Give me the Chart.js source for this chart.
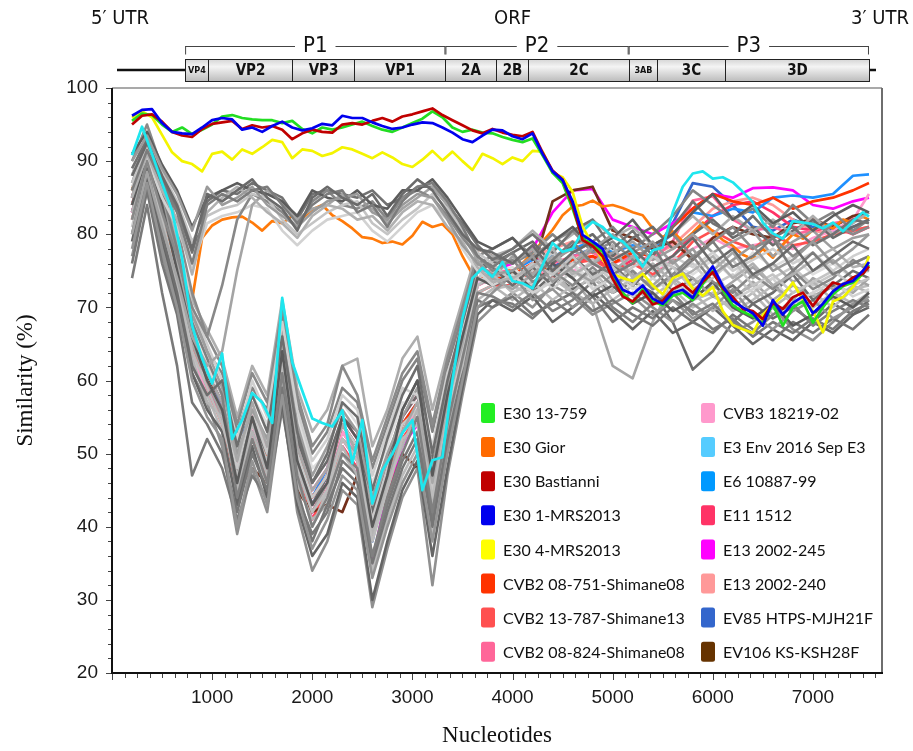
<!DOCTYPE html>
<html>
<head>
<meta charset="utf-8">
<title>Similarity plot</title>
<script src="https://cdn.jsdelivr.net/npm/chart.js@4.4.1/dist/chart.umd.min.js"></script>
<style>
  html, body { margin: 0; padding: 0; background: #fff; }
  #wrap { width: 913px; height: 751px; position: relative; }
</style>
</head>
<body>
<div id="wrap"><canvas id="simplot"></canvas></div>
<script>
// ---- data ----
const X_MAX = 7690;
const X_TICKS = [1000, 2000, 3000, 4000, 5000, 6000, 7000];
const Y_TICKS = [20, 30, 40, 50, 60, 70, 80, 90, 100];

// genome map, in nucleotides
const SEGMENTS = [['VP4', 730, 960], ['VP2', 960, 1800], ['VP3', 1800, 2420], ['VP1', 2420, 3330],
  ['2A', 3330, 3840], ['2B', 3840, 4150], ['2C', 4150, 5160], ['3AB', 5160, 5440],
  ['3C', 5440, 6120], ['3D', 6120, 7560]];
const REGIONS = [['P1', 730, 3330], ['P2', 3330, 5160], ['P3', 5160, 7560]];

// window positions for the highlighted strains
const NT_FINE = [200,300,400,500,600,700,800,900,1000,1100,1200,1300,1400,1500,1600,1700,1800,1900,2000,2100,
  2200,2300,2400,2500,2600,2700,2800,2900,3000,3100,3200,3300,3400,3500,3600,3700,3800,3900,4000,4100,
  4200,4300,4400,4500,4600,4700,4800,4900,5000,5100,5200,5300,5400,5500,5600,5700,5800,5900,6000,6100,
  6200,6300,6400,6500,6600,6700,6800,6900,7000,7100,7200,7300,7400,7500,7560];
// window positions for the background strains
const NT_GRID = [200,350,500,650,800,950,1100,1250,1400,1550,1700,1850,2000,2150,2300,2450,2600,2750,2900,3050,
  3200,3350,3500,3650,3800,4000,4200,4400,4600,4800,5000,5200,5400,5600,5800,6000,6200,6400,6600,6800,
  7000,7200,7400,7560];

const E30_13_759 = [95.5,96.5,96.3,95.0,94.0,94.6,93.7,94.3,95.0,96.1,96.3,95.9,95.7,95.6,95.6,95.2,95.5,94.4,93.8,94.6,
  94.3,94.6,95.0,95.4,94.8,94.3,94.0,94.6,95.2,95.8,96.8,96.0,94.6,94.0,94.3,93.9,93.8,93.3,92.9,92.6,
  93.1,90.8,88.4,87.0,83.5,79.4,78.6,77.6,74.2,72.0,70.6,72.5,70.8,70.3,71.6,72.0,71.0,73.2,75.0,72.4,
  70.3,69.4,68.8,67.8,70.4,67.5,70.0,70.8,67.9,70.0,71.8,72.9,73.4,74.6,75.8];
const E30_GIOR = [86,91,89,84,78,73.5,71.0,79.5,81.2,82.0,82.3,82.4,81.6,80.5,81.8,81.5,82.5,82.2,83.4,84.0,
  82.6,81.8,80.8,79.6,79.4,78.8,79.0,78.6,79.8,81.7,81.0,81.4,80.0,77.0,74.5,73.8,74.6,75.5,74.8,76.0,
  77.5,79.0,80.6,82.6,83.8,84.0,84.6,83.8,84.0,83.6,83.0,82.6,80.8,79.6,80.4,79.0,80.2,81.6,80.4,79.2,
  78.4,77.2,76.6,78.0,76.8,78.6,80.0,79.4,80.6,81.4,80.8,82.0,81.6,82.4,82.0];
const E30_BASTIANNI = [95.0,96.2,96.4,95.4,94.0,93.5,93.3,94.4,95.1,95.3,95.5,94.4,94.9,94.6,94.8,94.3,93.0,93.8,94.3,94.0,
  93.9,95.0,95.2,95.0,95.5,95.9,95.4,96.1,96.4,96.8,97.2,96.3,95.6,94.9,94.2,93.8,94.4,93.9,93.6,93.4,
  94.0,91.2,88.7,87.5,84.0,79.2,78.4,77.0,73.9,71.5,70.8,72.2,70.4,70.9,72.5,73.2,72.0,73.5,74.8,72.6,
  71.4,69.8,69.5,68.4,70.6,69.8,71.4,72.0,70.2,72.0,73.4,73.0,74.1,74.6,75.6];
const E30_1_MRS2013 = [96.2,97.0,97.1,95.2,94.0,93.8,93.7,94.6,95.6,95.9,95.7,94.3,94.6,94.0,94.8,95.4,94.6,94.2,94.5,95.1,
  94.9,96.2,95.9,95.9,95.3,94.8,94.4,94.6,95.0,95.3,95.2,94.6,93.9,93.0,92.6,93.5,94.3,94.2,93.4,93.0,
  93.8,91.0,88.6,87.4,84.5,79.9,79.0,78.0,74.8,72.4,71.8,73.0,71.2,70.5,72.0,72.4,71.3,73.8,75.6,72.9,
  70.9,70.0,69.2,67.5,71.0,69.0,70.6,71.5,69.2,70.5,72.2,73.2,73.6,75.0,76.2];
const E30_4_MRS2013 = [95.9,96.8,96.0,93.6,91.2,90.0,89.6,88.6,91.0,91.3,90.2,91.6,91.0,91.9,92.9,92.6,90.4,91.6,91.4,90.7,
  91.1,91.9,91.6,91.0,90.4,91.2,90.5,89.6,89.2,90.2,91.4,90.1,91.3,90.0,88.8,91.0,90.4,89.6,90.5,90.0,
  91.4,91.3,88.4,87.8,85.8,81.0,78.6,76.6,74.6,74.0,73.6,74.6,73.0,71.8,74.0,74.6,72.6,71.6,72.8,69.5,
  67.6,67.0,66.5,69.0,70.4,71.6,73.4,71.0,69.5,66.6,70.8,71.4,72.8,74.8,77.0];
const E3_ENV_2016 = [90.8,94.7,91.0,87.0,83.2,76.7,67.5,63.0,59.6,63.7,52.0,54.6,58.3,57.0,54.2,71.3,62.5,58.6,54.8,54.2,
  53.7,55.9,48.7,54.6,43.2,47.7,50.0,52.8,54.6,45.0,49.1,49.5,60.0,68.5,74.0,75.4,74.2,76.2,73.6,73.3,
  72.6,75.8,78.8,77.6,78.0,80.4,81.7,81.0,79.6,79.0,77.6,75.6,77.8,78.2,83.0,86.5,88.3,88.6,87.6,87.8,
  87.1,85.8,84.4,81.6,80.1,79.4,81.8,81.6,81.4,80.8,81.6,80.4,81.8,83.0,82.4];

const CVB2_08_751 = [84,91,83,75,66,60,56,47,55,49,63,50,44,47,54,51,41,47,54,57,46,56,65,74,74,
  74.5,76,75,76.5,77,76,77.5,77,81,83.5,85.5,84.5,84,85,83.5,84.5,85,86,87];
const CVB2_13_787 = [82,90,82,74,65,59,54,45,52,47,61,47,41,45,51,48,39,45,52,55,44,54,63,72,73,
  73,75,74,76,76.5,75,76,74.5,76,79,80.5,79,78,80,78.5,79,80,80.5,81];
const CVB2_08_824 = [85,92,84,76,67,61,57,48,56,50,64,51,45,48,55,52,42,48,55,58,47,57,66,75,75,
  75,77,76,77,77.5,76,77,76.5,79,84.6,85.2,82,80.5,81,80,80.5,81.5,82,83];
const CVB3_18219 = [83,91,82,73,64,58,55,46,54,48,62,49,43,46,53,50,40,46,53,56,45,55,64,73,74,
  73.5,75.5,74,75,76,74.5,76,74.5,76.5,78,79.5,78,78.5,79,78,79.5,80.5,82,85.5];
const E6_10887 = [84,91,83,75,66,61,56,48,55,50,63,50,44,48,54,51,42,48,54,57,47,57,65,74,74,
  75,76.5,77,78,79,77.5,78.5,78,80,83,82.5,83.5,83,85,85.3,85,85.5,88,88.2];
const E11_1512 = [83,90,82,74,65,60,55,46,53,48,62,48,42,46,52,49,40,46,52,55,45,55,64,73,74,
  74,76,75,76,77,75,76.5,75.5,77,80,82.5,84,84.5,83,81,80.5,81,80,81];
const E13_2002_245 = [83,90,82,74,64,59,55,46,53,47,61,48,41,45,51,48,35,45,51,54,43,54,64,73,75,
  76,78,83,86,86.2,82,81,80,81.5,83.5,85.5,85,86.3,86.4,86,84,83.5,84.5,85];
const E13_2002_240 = [84,91,83,75,66,60,56,47,54,49,62,49,43,46,53,50,41,47,53,56,45,55,65,74,75,
  75,77,78,79,78.5,77,77.5,77,78.5,81,83.5,84.5,85,84,82,80.5,80,80.5,81];
const EV85_HTPS = [85,91,84,76,66,60,56,52,55,49,63,50,43,47,53,50,38,47,53,56,46,56,65,74,75,
  74,76,75.5,77,78,76,77.5,77,81.5,87,86.5,84,81,80.5,82,81,80.5,81,82];
const EV106_KS = [85,92,84,76,67,61,55,45,48,46,58,45,42,43,42,47,40,44,50,48,42,55,66,78,77,
  74.5,75,84.5,86,86.5,80.5,79.5,78,79,76.5,79.5,81,80,79.5,81.5,82,81,82.5,83];

// background strains, upper band in P1
const U1 = [88,92.5,88,84,78,85.5,84.5,86,87.5,85,83.5,80.5,85,86.5,85,84,85.5,82.5,85.5,87.5,86,83,80,78,77.5,
  76,78.5,75,77.5,79,76.5,78,75.5,77,79.5,76,78,74.5,76,78.5,75,77,79,78];
const U2 = [86,91.5,87,83,76,84,85.5,84.5,86,86.5,84,81.5,84,85.5,86,83,84,81,84.5,86.5,87,84.5,81,77,75.5,
  77.5,74,76.5,79,76,74.5,76,78.5,74,76.5,79,75.5,77,79.5,75,77.5,74.5,76,77];
const U3 = [90,93.5,89,85.5,80.5,86.5,84,85,86.5,84,82.5,81,83,84.5,85,85.5,83,82,84,85.5,85,82,78.5,76,74.5,
  75,77,73.5,75.5,78,80,77.5,79,76,78,74.5,76.5,78.5,75,76.5,79,76,78,80];
const U4 = [85,91,86,82,74.5,83,85,86.5,85,83,81.5,79.5,82.5,84,83.5,82,82.5,80.5,83,84.5,84,81,79,75.5,73.5,
  74,75.5,78,74.5,76,78.5,74,76,73.5,75,77,74,76,73,74.5,76.5,78,75.5,76];
const U5 = [91,94,89.5,86,81,85,86,87,86,85.5,84.5,82.5,86,85,84.5,86,84,83.5,86,86,87.5,85,82,79,78,
  79.5,76.5,79,81,78,79.5,82,78.5,80,83,85.5,82,84,81.5,83,80.5,82.5,84,83];
const U6 = [87,92,88.5,84.5,79,82.5,83.5,84,85.5,85,82,80,81.5,83,84,84.5,81.5,80,82,83.5,85.5,83.5,80.5,77.5,76,
  73.5,76,74.5,77,74,75.5,73,77,75.5,72.5,74,76.5,73,74.5,72,73.5,75,73,74];
const U7 = [82,90,83,77,70,66,73,82,85.5,84.5,83,81,84.5,86,84,83.5,84.5,82,85,86,85,82.5,79.5,77,75,
  76.5,73.5,75,73,75.5,73,75,72.5,74.5,77,73.5,72,74.5,72.5,75,72.5,74,76.5,75];
const U8 = [80,88.5,81,74,66,62,64,75,84,86,84.5,82,83.5,84,85.5,84,83.5,81.5,83.5,85,86.5,84,80,76.5,74,
  72.5,74.5,77,75,73.5,76,74.5,73,75.5,74,71.5,73.5,75.5,73,71,74,72.5,74,73];
const U9 = [89,93,87.5,83.5,77.5,84.5,86,85.5,87,86,85,82,85.5,86,85.5,85,86,84,85,86.5,86.5,84,81.5,78.5,76.5,
  78,80,77.5,80.5,82,78,80.5,77,81,84.5,81.5,80,82.5,79.5,81,78.5,80,82,81.5];
const U10 = [86.5,90.5,85,81,75.5,81.5,82.5,83,84,83.5,80.5,78.5,80.5,82,82.5,83,80.5,79,81,83,84,82,78,75,73,
  74.5,72,73.5,76,72.5,74,71.5,74,72,73.5,75.5,71,72.5,74,70.5,72,73.5,71.5,72.5];

// background strains, lower band in P1
const L1 = [84,91,84,75,66,60,56,46,55,48,64,49,43,46,55,52,40,47,56,60,47,58,66,74,73,
  75,72.5,76,74,71.5,73,70.5,72,69.5,71,73.5,70,68.5,70.5,67.5,69,71.5,70,72];
const L2 = [80,89,80,72,62,58,60,51,58,53,66,53,46,50,57,55,45,52,58,62,50,60,68,76,75.5,
  73,75.5,73,77,74.5,76,73,75.5,72,74,71.5,73,70.5,72,74.5,71,73,75,74];
const L3 = [87,93,86,78,68,63,58,44,52,46,61,47,40,44,50,48,36,44,50,55,42,54,63,72,71.5,
  70,72,69.5,71,73.5,70,68,70.5,72,69,70.5,68,66.5,69,70.5,67.5,69.5,71,70];
const L4 = [78,87,78,70,60,55,52,40,49,43,58,44,37,41,47,45,33,40,46,50,38,50,60,70,72,
  74.5,71,72.5,70,72,74.5,71.5,69,71,68.5,70,72.5,69,67,69.5,71,68.5,70,71.5];
const L5 = [85,92,83,76,67,61,57,49,57,51,65,51,45,48,54,50,43,49,53,57,46,57,65,75,76.5,
  76,78,74.5,76,78.5,75,77,74,76.5,73,75,77.5,74,76,73.5,75,76.5,74,75.5];
const L6 = [82,90,82,74,64,59,54,47,54,49,62,48,42,45,52,49,38,45,52,54,44,55,62,73,74.5,
  72,73.5,71,73,75,72,74,71.5,73.5,71,72,69.5,71,73,70.5,72,70,72.5,73];
const L7 = [88,94,88,80,70,65,60,52,60,55,68,56,49,52,58,56,47,53,59,58,51,61,67,74,73.5,
  74,76,72.5,75,73,76.5,78,75,77,75.5,77.5,75,76.5,78,76,77.5,75,77,78];
const L8 = [76,86,76,69,57,54,50,42,50,45,59,45,38,43,48,46,35,42,48,52,40,52,61,71,70,
  71.5,69,70.5,72,69.5,71,69,67.5,70,68,66.5,69,67,65.5,68,66.5,68.5,67,69];
const L9 = [90,95,89,81,72,66,62,54,61,57,70,58,51,54,62,58,49,55,61,64,54,63,70,77,78,
  79.5,77,79,80.5,77.5,79,76.5,78.5,80,77,79,81,78,79.5,77,79,81.5,80,81];
const L10 = [83,91,81,73,63,57,55,45,53,47,60,46,41,43,51,47,39,46,51,56,43,53,63,72,73,
  71,73,75,72,70.5,72.5,75,72.5,74,72,69.5,71.5,73,70,72,73.5,71,73,72];
const L11 = [79,88,79,71,61,56,53,43,51,44,57,43,36,39,46,44,30,38,45,49,36,48,59,69,71,
  69.5,71.5,68,70,72,69.5,67,69.5,66.5,68,70,67.5,65,67,65.5,68,66.5,69,70];
const L12 = [86,92.5,85,77,69,64,59,50,56,52,67,54,47,51,56,53,44,50,55,59,48,59,66,75,74,
  77,74.5,76.5,78,76,77.5,79,76.5,78,80,77.5,79,80.5,77,79,80.5,78,79.5,80];
const L13 = [81,89.5,80,72,63,60,56,48,56,50,63,50,44,47,54,51,41,48,54,56,45,56,64,74,75,
  73.5,75,77.5,74,76.5,73.5,75.5,77,74.5,76,73,74.5,72,74,75.5,73,74.5,76,77];
const L14 = [74,84,72,62,47,52,48,41,47,44,56,44,39,42,49,47,36,43,49,53,41,51,60,70,71,
  70.5,68.5,71,69,71.5,68,70,68.5,71,69.5,67,68.5,66,68,66.5,68.5,67,69.5,70.5];
const L15 = [84,91,85,77,67,62,58,51,58,54,66,55,48,50,57,54,46,51,57,57,50,58,66,73,75,
  75.5,73,74.5,76,73.5,75,72.5,74,76,74.5,76.5,74,77.5,75.5,77,74.5,76,74,75];
const L16 = [77,86,77,70,61,57,51,39,48,42,57,42,34,38,45,43,29,37,44,48,32,47,58,68,70,
  72,70,73,71.5,69,70.5,72,70,68,70.5,68.5,66.5,68,70,67,65.5,68,70.5,71];
const L17 = [85,93,86,79,71,67,63,55,62,58,71,59,53,56,62,63,51,56,63,66,56,64,71,78,77,
  78,80.5,78,80,82,79.5,81,78.5,80,82.5,80,82.5,80.5,82,80,82.5,80,81.5,83];
const L18 = [83,90.5,83,76,66,62,58,49,54,50,64,52,46,49,55,53,42,49,56,60,49,59,67,75,76,
  77.5,79,76,78.5,80,77,79.5,81,78,80,82,79.5,81,78.5,80.5,82,79.5,81,82];
const L19 = [80,88,79,71,62,58,53,43,50,46,60,47,40,45,50,47,34,41,47,51,39,51,61,71,72.5,
  73,71.5,74,72,74.5,71,73,70.5,72.5,70,71.5,70,72,69,71,70,72,70.5,72];
const L20 = [88,94,87,79,70,64,61,53,59,56,69,57,50,53,59,57,48,54,60,63,53,62,69,76,77,
  76,77.5,80,77.5,79,81,78,80,82.5,86,84,82,83.5,81,84,81.5,83,80.5,82];
const L21 = [82,90,81,74,65,60,55,46,53,48,62,48,42,46,52,50,39,46,53,55,44,55,64,73,74,
  75,73,75.5,74,70.5,62,60.3,68,73.5,71.5,73,71,73.5,71,73,71.5,73,72,74];
const L22 = [86,92,84,76,67,61,57,47,55,50,63,50,43,47,54,51,41,47,55,58,46,57,65,74,73,
  74,72,74.5,72.5,74,72,73.5,72,68,61.5,64,68,70.5,68.5,70,68,70.5,69,71];

// ---- styling ----
const SANS = "'Liberation Sans', Arial, sans-serif";
const SERIF = "'Liberation Serif', 'Times New Roman', serif";
const NARROW = "'Liberation Sans Narrow', 'Arial Narrow', 'DejaVu Sans Condensed', sans-serif";
const LEGEND_FONT = "Lato, 'Open Sans', sans-serif";

const xy = (xs, ys) => ys.map((y, i) => ({x: xs[i], y: y}));

// legend order; order = drawing layer (lower is on top, gray lines are 10)
const COLORED = [
  {label: 'E30 13-759', xs: NT_FINE, ys: E30_13_759, color: '#22dd22', swatch: '#22ee22', order: 3},
  {label: 'E30 Gior', xs: NT_FINE, ys: E30_GIOR, color: '#ff7a0a', swatch: '#ff6a00', order: 15},
  {label: 'E30 Bastianni', xs: NT_FINE, ys: E30_BASTIANNI, color: '#c00000', swatch: '#c00000', order: 2},
  {label: 'E30 1-MRS2013', xs: NT_FINE, ys: E30_1_MRS2013, color: '#0000ee', swatch: '#0000ee', order: 1},
  {label: 'E30 4-MRS2013', xs: NT_FINE, ys: E30_4_MRS2013, color: '#f4f400', swatch: '#ffff00', order: 4},
  {label: 'CVB2 08-751-Shimane08', xs: NT_GRID, ys: CVB2_08_751, color: '#ff3300', swatch: '#ff3300', order: 20},
  {label: 'CVB2 13-787-Shimane13', xs: NT_GRID, ys: CVB2_13_787, color: '#ff5050', swatch: '#ff5050', order: 20},
  {label: 'CVB2 08-824-Shimane08', xs: NT_GRID, ys: CVB2_08_824, color: '#ff6699', swatch: '#ff6699', order: 20},
  {label: 'CVB3 18219-02', xs: NT_GRID, ys: CVB3_18219, color: '#ff99cc', swatch: '#ff99cc', order: 20},
  {label: 'E3 Env 2016 Sep E3', xs: NT_FINE, ys: E3_ENV_2016, color: '#1ee6ee', swatch: '#55ccff', order: 5},
  {label: 'E6 10887-99', xs: NT_GRID, ys: E6_10887, color: '#1e90ff', swatch: '#0099ff', order: 20},
  {label: 'E11 1512', xs: NT_GRID, ys: E11_1512, color: '#ff3366', swatch: '#ff3366', order: 20},
  {label: 'E13 2002-245', xs: NT_GRID, ys: E13_2002_245, color: '#ff00ff', swatch: '#ff00ff', order: 20},
  {label: 'E13 2002-240', xs: NT_GRID, ys: E13_2002_240, color: '#ff9999', swatch: '#ff9999', order: 20},
  {label: 'EV85 HTPS-MJH21F', xs: NT_GRID, ys: EV85_HTPS, color: '#3366cc', swatch: '#3366cc', order: 20},
  {label: 'EV106 KS-KSH28F', xs: NT_GRID, ys: EV106_KS, color: '#74301c', swatch: '#663300', order: 15}
];

const GRAY = [U1, U2, U3, U4, U5, U6, U7, U8, U9, U10,
  L1, L2, L3, L4, L5, L6, L7, L8, L9, L10, L11, L12, L13, L14, L15, L16, L17, L18, L19, L20, L21, L22];
const GRAY_SHADES = ['#6a6a6a','#7c7c7c','#9a9a9a','#b0b0b0','#5c5c5c','#c4c4c4','#888888','#a4a4a4','#727272','#d2d2d2',
  '#5a5a5a','#6e6e6e','#808080','#949494','#a8a8a8','#bcbcbc','#cfcfcf','#767676','#8a8a8a','#b4b4b4','#656565',
  '#9e9e9e','#c8c8c8','#7a7a7a','#dedede','#909090','#aeaeae','#6a6a6a','#bababa','#848484','#a6a6a6','#6c6c6c'];

const datasets = COLORED.map(c => ({
  label: c.label, data: xy(c.xs, c.ys), borderColor: c.color, backgroundColor: c.color,
  borderWidth: 2.7, order: c.order
})).concat(GRAY.map((ys, i) => ({
  label: '', data: xy(NT_GRID, ys), borderColor: GRAY_SHADES[i], borderWidth: 2.6, order: 10
})));

// ---- plugins ----
const boxLegend = {
  id: 'boxLegend',
  afterDatasetsDraw(chart) {
    const ctx = chart.ctx;
    ctx.save();
    ctx.fillStyle = '#fff';
    ctx.fillRect(474, 393, 404, 279);
    ctx.font = '16px ' + LEGEND_FONT;
    ctx.textBaseline = 'middle';
    ctx.textAlign = 'left';
    COLORED.forEach((c, i) => {
      const col = Math.floor(i / 8), row = i % 8;
      const sx = col ? 701 : 481, cy = 413 + row * 34.1;
      ctx.fillStyle = c.swatch;
      ctx.beginPath();
      ctx.roundRect(sx, cy - 10, 14, 20, 2.5);
      ctx.fill();
      ctx.fillStyle = '#111';
      ctx.fillText(c.label, sx + 22, cy + 1);
    });
    ctx.restore();
  }
};

const frameTicks = {
  id: 'frameTicks',
  afterDatasetsDraw(chart) {
    const {ctx, chartArea: a} = chart;
    const xs = chart.scales.x, ys = chart.scales.y;
    ctx.save();
    ctx.strokeStyle = '#444';
    ctx.lineWidth = 1;
    ctx.beginPath();
    for (let v = 0; v <= X_MAX; v += 125) {
      const p = Math.round(xs.getPixelForValue(v)) + 0.5;
      ctx.moveTo(p, a.bottom);
      ctx.lineTo(p, a.bottom + (v % 1000 === 0 ? 7 : 5));
    }
    for (let v = 20; v <= 100; v += 2) {
      const p = Math.round(ys.getPixelForValue(v)) + 0.5;
      ctx.moveTo(a.left - (v % 10 === 0 ? 6 : 4), p);
      ctx.lineTo(a.left, p);
    }
    ctx.stroke();
    // frame: light top/right, black left/bottom
    ctx.lineWidth = 1.5;
    ctx.strokeStyle = '#8c8c8c';
    ctx.beginPath();
    ctx.moveTo(a.left, a.top); ctx.lineTo(a.right, a.top);
    ctx.stroke();
    ctx.lineWidth = 2;
    ctx.strokeStyle = '#6e6e6e';
    ctx.beginPath();
    ctx.moveTo(a.right, a.top); ctx.lineTo(a.right, a.bottom);
    ctx.stroke();
    ctx.strokeStyle = '#111';
    ctx.lineWidth = 2;
    ctx.beginPath();
    ctx.moveTo(a.left, a.top); ctx.lineTo(a.left, a.bottom); ctx.lineTo(a.right + 1, a.bottom);
    ctx.stroke();
    ctx.restore();
  }
};

const genomeMap = {
  id: 'genomeMap',
  afterDraw(chart) {
    const ctx = chart.ctx;
    const sc = chart.scales.x;
    const px = v => sc.getPixelForValue(v);
    const boxTop = 59, boxH = 22, midY = 70, brY = 46.5;
    ctx.save();
    ctx.fillStyle = '#111';
    ctx.textAlign = 'center';
    ctx.textBaseline = 'middle';
    ctx.font = '20px ' + NARROW;
    ctx.fillText('5\u2032 UTR', px(80), 19);
    ctx.fillText('ORF', px(4000), 19);
    ctx.fillText('3\u2032 UTR', px(7670), 19);

    // polyprotein brackets
    ctx.font = '22px ' + NARROW;
    ctx.strokeStyle = '#444';
    ctx.lineWidth = 1;
    REGIONS.forEach(([name, s, e]) => {
      const x0 = px(s), x1 = px(e), cx = (x0 + x1) / 2;
      const half = ctx.measureText(name).width / 2 + 8;
      ctx.beginPath();
      ctx.moveTo(x0, brY); ctx.lineTo(cx - half, brY);
      ctx.moveTo(cx + half, brY); ctx.lineTo(x1, brY);
      ctx.moveTo(x0 + 0.5, brY); ctx.lineTo(x0 + 0.5, brY + 8);
      ctx.moveTo(x1 - 0.5, brY); ctx.lineTo(x1 - 0.5, brY + 8);
      ctx.stroke();
      ctx.fillText(name, cx, brY);
    });

    // backbone
    ctx.strokeStyle = '#111';
    ctx.lineWidth = 2.5;
    ctx.beginPath();
    ctx.moveTo(px(50), midY); ctx.lineTo(px(SEGMENTS[0][1]), midY);
    ctx.moveTo(px(SEGMENTS[SEGMENTS.length - 1][2]), midY); ctx.lineTo(px(7630), midY);
    ctx.stroke();

    // gene boxes
    const g = ctx.createLinearGradient(0, boxTop, 0, boxTop + boxH);
    g.addColorStop(0, '#d4d4d4');
    g.addColorStop(0.35, '#f4f4f4');
    g.addColorStop(1, '#bdbdbd');
    ctx.lineWidth = 1;
    ctx.strokeStyle = '#222';
    SEGMENTS.forEach(([name, s, e]) => {
      const x0 = Math.round(px(s)) + 0.5, x1 = Math.round(px(e)) + 0.5;
      ctx.fillStyle = g;
      ctx.fillRect(x0, boxTop + 0.5, x1 - x0, boxH);
      ctx.strokeRect(x0, boxTop + 0.5, x1 - x0, boxH);
      ctx.fillStyle = '#111';
      ctx.font = (name === 'VP4' || name === '3AB' ? 'bold 9px ' : 'bold 15px ') + NARROW;
      ctx.fillText(name, (x0 + x1) / 2, boxTop + boxH / 2 + 1);
    });
    ctx.restore();
  }
};

// ---- chart ----
new Chart(document.getElementById('simplot'), {
  type: 'line',
  data: {datasets: datasets},
  options: {
    responsive: true,
    maintainAspectRatio: false,
    animation: false,
    devicePixelRatio: 1,
    layout: {padding: {top: 88, right: 31, bottom: 0, left: 0}},
    elements: {
      point: {radius: 0, hoverRadius: 0},
      line: {tension: 0, fill: false, borderJoinStyle: 'round'}
    },
    plugins: {legend: {display: false}, tooltip: {enabled: false}},
    events: [],
    scales: {
      x: {
        type: 'linear', min: 0, max: X_MAX,
        afterBuildTicks: s => { s.ticks = X_TICKS.map(v => ({value: v})); },
        afterFit: s => { s.height = 78; },
        grid: {display: false, drawTicks: false},
        border: {display: false},
        ticks: {padding: 13, color: '#1a1a1a', maxRotation: 0, autoSkip: false,
          font: {family: SANS, size: 19}, callback: v => String(v)},
        title: {display: true, text: 'Nucleotides', color: '#111',
          font: {family: SERIF, size: 23}, padding: {top: 0, bottom: 1}}
      },
      y: {
        type: 'linear', min: 20, max: 100,
        afterBuildTicks: s => { s.ticks = Y_TICKS.map(v => ({value: v})); },
        afterFit: s => { s.width = 112; },
        grid: {display: false, drawTicks: false},
        border: {display: false},
        ticks: {padding: 14, color: '#1a1a1a', font: {family: SANS, size: 19}, callback: v => String(v)},
        title: {display: true, text: 'Similarity (%)', color: '#111',
          font: {family: SERIF, size: 23}, padding: {top: 12, bottom: 0}}
      }
    }
  },
  plugins: [boxLegend, frameTicks, genomeMap]
});
</script>
</body>
</html>
